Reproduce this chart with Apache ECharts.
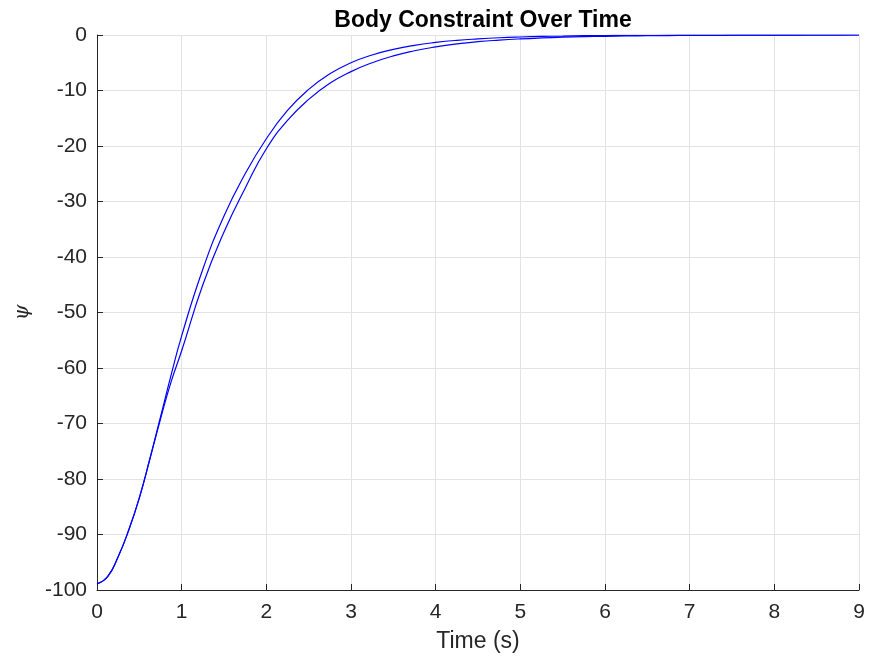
<!DOCTYPE html>
<html>
<head>
<meta charset="utf-8">
<script src="https://cdn.jsdelivr.net/npm/echarts@6/dist/echarts.min.js"></script>
<style>
html,body{margin:0;padding:0;background:#fff;}
#main{width:870px;height:660px;}
</style>
</head>
<body>
<div id="main"></div>
<script>
// Time samples (s)
var time = [0, 0.125, 0.25, 0.375, 0.5, 0.625, 0.75, 0.875, 1.0, 1.25, 1.5, 1.75, 2.0, 2.25, 2.5, 2.75, 3.0, 3.25, 3.5, 3.75, 4.0, 4.25, 4.5, 4.75, 5.0, 5.25, 5.5, 5.75, 6.0, 6.25, 6.5, 6.75, 7.0, 7.25, 7.5, 7.75, 8.0, 8.25, 8.5, 8.75, 9.0];
var psiA = [-98.9, -97.6, -94.0, -89.2, -83.4, -76.3, -68.8, -61.3, -54.2, -42.2, -32.6, -25.0, -18.7, -13.6, -9.8, -7.0, -5.0, -3.6, -2.6, -1.86, -1.34, -0.96, -0.7, -0.5, -0.36, -0.26, -0.19, -0.13, -0.1, -0.07, -0.05, -0.035, -0.025, -0.02, -0.015, -0.01, -0.008, -0.005, -0.003, -0.001, 0];
var psiB = [-98.9, -97.6, -94.0, -89.2, -83.4, -76.4, -69.2, -62.5, -56.9, -45.0, -35.5, -27.6, -20.5, -15.4, -11.6, -8.7, -6.6, -5.0, -3.76, -2.84, -2.14, -1.6, -1.2, -0.92, -0.7, -0.53, -0.4, -0.3, -0.23, -0.17, -0.13, -0.1, -0.07, -0.06, -0.04, -0.03, -0.02, -0.015, -0.01, -0.005, 0];
var xTicks = [0, 9, 1];      // min, max, interval
var yTicks = [-100, 0, 10];  // min, max, interval

function pairs(t, v){ return t.map(function(x,i){ return [x, v[i]]; }); }

var chart = echarts.init(document.getElementById('main'));
var axisColor = '#262626';
chart.setOption({
  animation: false,
  backgroundColor: '#ffffff',
  title: {
    text: 'Body Constraint Over Time',
    left: 478, top: 4, textAlign: 'center',
    textStyle: {fontFamily: 'Liberation Sans, Arial, sans-serif', fontWeight: 'bold', fontSize: 23, color: '#000'}
  },
  grid: {left: 97, right: 11, top: 35, bottom: 70, containLabel: false},
  xAxis: {
    type: 'value', min: xTicks[0], max: xTicks[1], interval: xTicks[2],
    name: 'Time (s)', nameLocation: 'middle', nameGap: 40,
    nameTextStyle: {fontFamily: 'Liberation Sans, Arial, sans-serif', fontSize: 23, color: axisColor},
    axisLine: {show: true, onZero: false, lineStyle: {color: axisColor, width: 1}},
    axisTick: {show: true, inside: true, length: 6, lineStyle: {color: axisColor}},
    axisLabel: {margin: 12, fontFamily: 'Liberation Sans, Arial, sans-serif', fontSize: 21, color: axisColor},
    splitLine: {show: true, lineStyle: {color: '#e3e3e3', width: 1}}
  },
  yAxis: {
    type: 'value', min: yTicks[0], max: yTicks[1], interval: yTicks[2],
    name: 'ψ', nameLocation: 'middle', nameGap: 64, nameRotate: 90,
    nameTextStyle: {fontFamily: 'DejaVu Serif, serif', fontStyle: 'italic', fontSize: 20, color: axisColor},
    axisLine: {show: true, onZero: false, lineStyle: {color: axisColor, width: 1}},
    axisTick: {show: true, inside: true, length: 6, lineStyle: {color: axisColor}},
    axisLabel: {margin: 10, fontFamily: 'Liberation Sans, Arial, sans-serif', fontSize: 21, color: axisColor},
    splitLine: {show: true, lineStyle: {color: '#e3e3e3', width: 1}}
  },
  series: [
    {type: 'line', data: pairs(time, psiA), smooth: true, showSymbol: false, lineStyle: {color: '#0000ff', width: 1.2}},
    {type: 'line', data: pairs(time, psiB), smooth: true, showSymbol: false, lineStyle: {color: '#0000ff', width: 1.2}}
  ]
});
</script>
</body>
</html>
